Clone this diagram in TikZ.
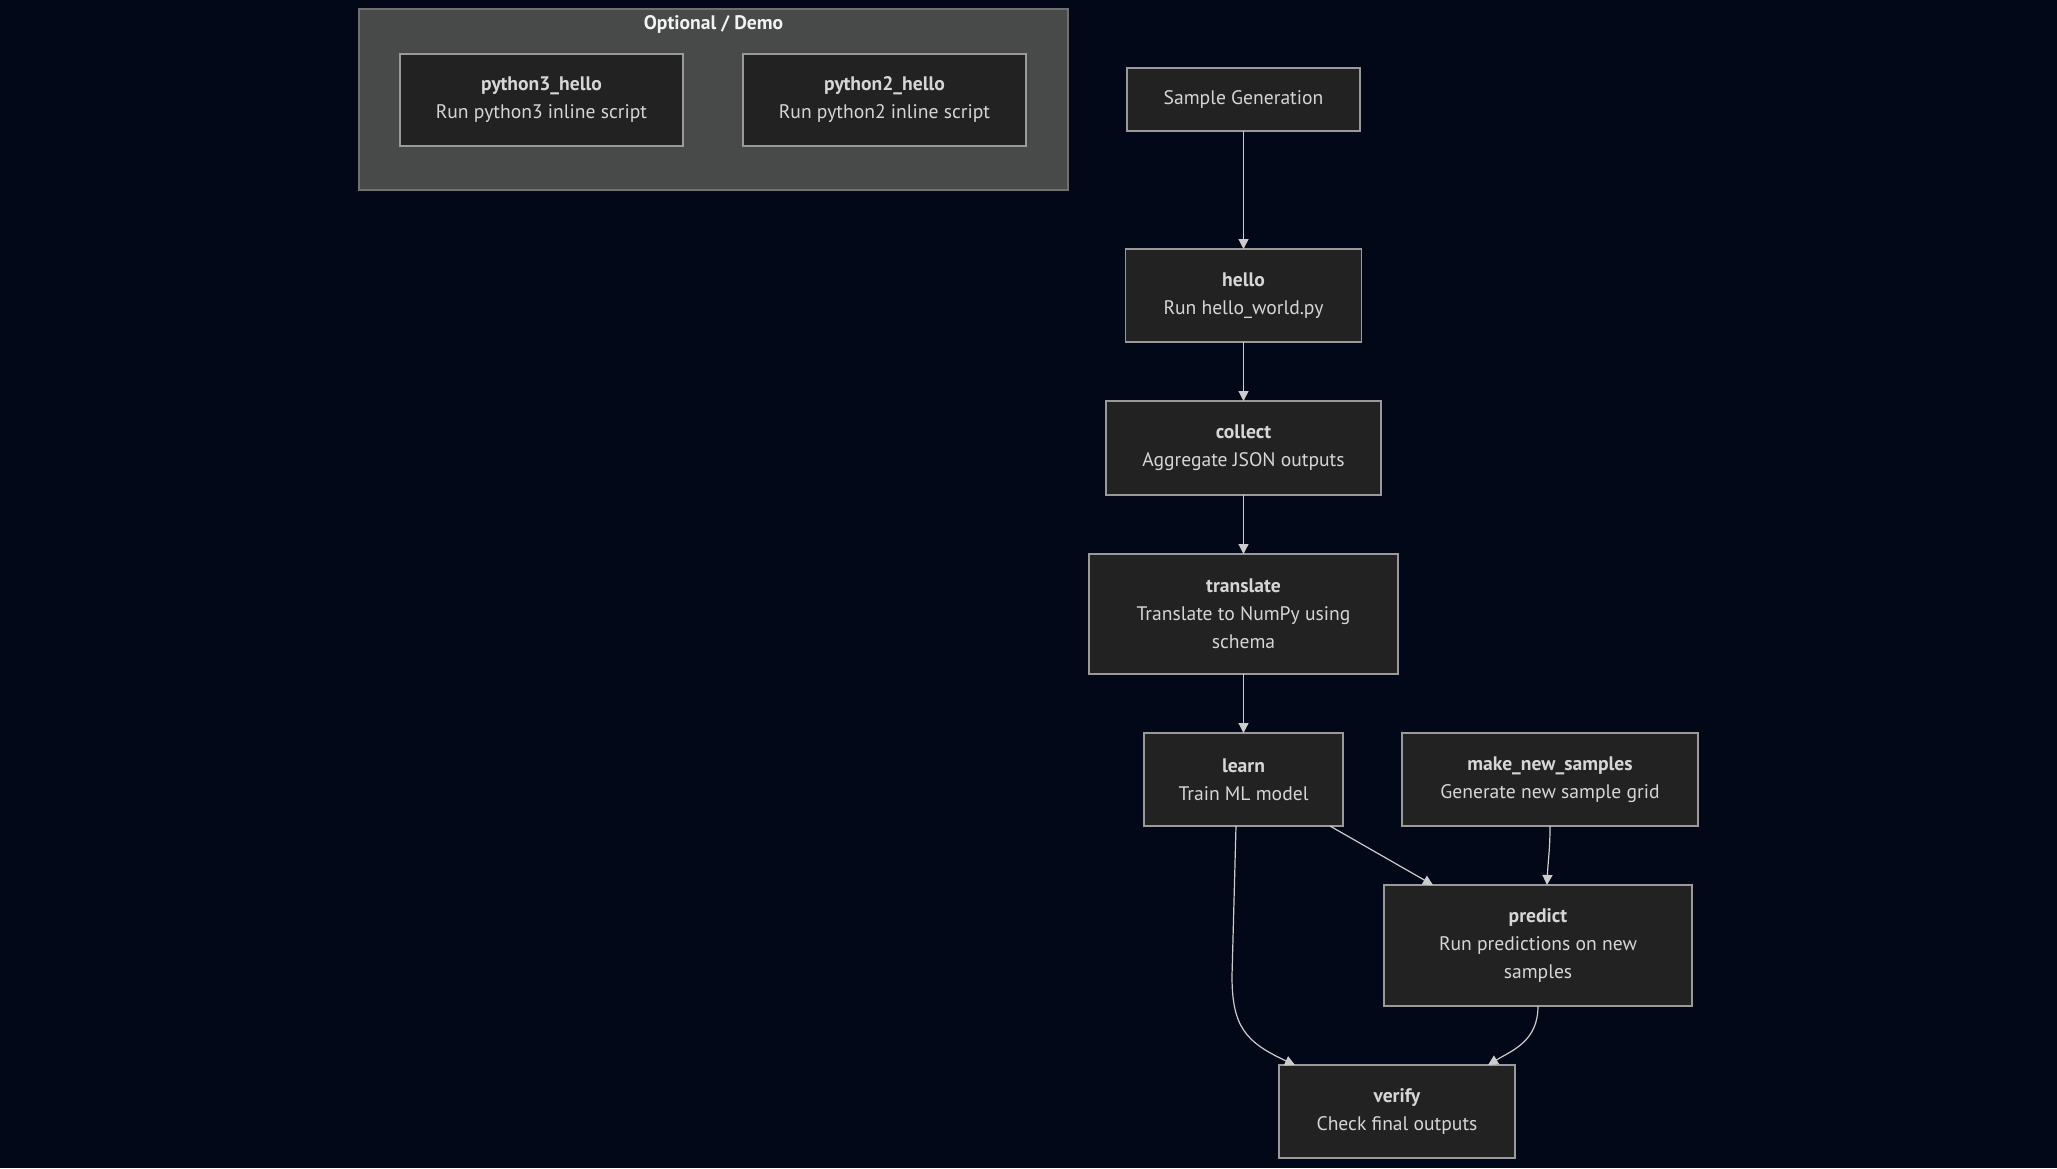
\documentclass[tikz,border=0pt]{standalone}
\usepackage{fontspec}
\setmainfont{PT Sans}
\usetikzlibrary{arrows.meta,positioning,calc}
\definecolor{bgnavy}{HTML}{020817}
\definecolor{boxfill}{HTML}{212221}
\definecolor{boxline}{HTML}{9A9A9A}
\definecolor{boxtext}{HTML}{D6D6D6}
\definecolor{grpfill}{HTML}{484A49}
\definecolor{grpline}{HTML}{707070}
\definecolor{grptext}{HTML}{F2F2F2}
\definecolor{wireline}{HTML}{CCCCCC}
\tikzset{
  stepbox/.style={rectangle, draw=boxline, fill=boxfill, text=boxtext, line width=0.6pt,
                  align=center, inner sep=0pt, outer sep=0pt, font=\fontsize{9.8}{14}\selectfont},
  smallbox/.style={stepbox, minimum width=118pt, minimum height=46.5pt},
  groupbox/.style={rectangle, draw=grpline, fill=grpfill, line width=0.6pt, inner sep=0pt},
  flowarr/.style={-{Triangle[length=5pt,width=5pt]}, draw=wireline, line width=0.6pt},
}
\begin{document}
\begin{tikzpicture}[x=0.5pt, y=-0.5pt, node distance=29.5pt and 29.5pt]
    \fill[bgnavy] (0,0) rectangle (2057,1168);
    % optional / demo group
    \node[groupbox, minimum width=354.5pt, minimum height=90.5pt] (demogroup) at (713.5,99.5) {};
    \node[text=grptext, font=\fontsize{9.8}{14}\selectfont\bfseries] (demotitle) at (713.5,24) {Optional / Demo};
    \node[stepbox, minimum width=141.5pt, minimum height=46pt] (py3) at (541.5,100)
          {\textbf{python3\_hello}\\Run python3 inline script};
    \node[stepbox, minimum width=141.5pt, minimum height=46pt, right=30pt of py3] (py2)
          {\textbf{python2\_hello}\\Run python2 inline script};
    % main pipeline
    \node[stepbox, minimum width=116.5pt, minimum height=31.5pt] (sample) at (1243.5,99.5) {Sample Generation};
    \node[smallbox, below=59pt of sample] (hello) {\textbf{hello}\\Run hello\_world.py};
    \node[stepbox, minimum width=137.5pt, minimum height=47pt, below=of hello] (collect)
          {\textbf{collect}\\Aggregate JSON outputs};
    \node[stepbox, minimum width=154.5pt, minimum height=60pt, below=of collect] (translate)
          {\textbf{translate}\\Translate to NumPy using\\schema};
    \node[smallbox, minimum width=99.5pt, below=of translate] (learn) {\textbf{learn}\\Train ML model};
    \node[smallbox, minimum width=148pt, right=of learn] (mksamples)
          {\textbf{make\_new\_samples}\\Generate new sample grid};
    \node[stepbox, minimum width=154pt, minimum height=60.5pt, below=of mksamples, xshift=-6pt] (predict)
          {\textbf{predict}\\Run predictions on new\\samples};
    \node[smallbox, below=of predict, xshift=-70.5pt] (verify) {\textbf{verify}\\Check final outputs};
    \draw[flowarr] (sample)--(hello);
    \draw[flowarr] (hello)--(collect);
    \draw[flowarr] (collect)--(translate);
    \draw[flowarr] (translate)--(learn);
    \draw[flowarr] ($(learn.south east)+(-13,0)$)--($(predict.north west)+(49,0)$);
    \draw[flowarr] (mksamples.south) .. controls +(0,25) and +(1,-25) .. ($(predict.north)+(9,0)$);
    \draw[flowarr] ($(learn.south)+(-7.5,0)$) -- ++(-4,150) .. controls +(0,50) and +(-50,-23)
          .. ($(verify.north)+(-102,0)$);
    \draw[flowarr] (predict.south) .. controls +(0,35) and +(25,-15) .. ($(verify.north)+(91,0)$);
  \end{tikzpicture}
\end{document}
